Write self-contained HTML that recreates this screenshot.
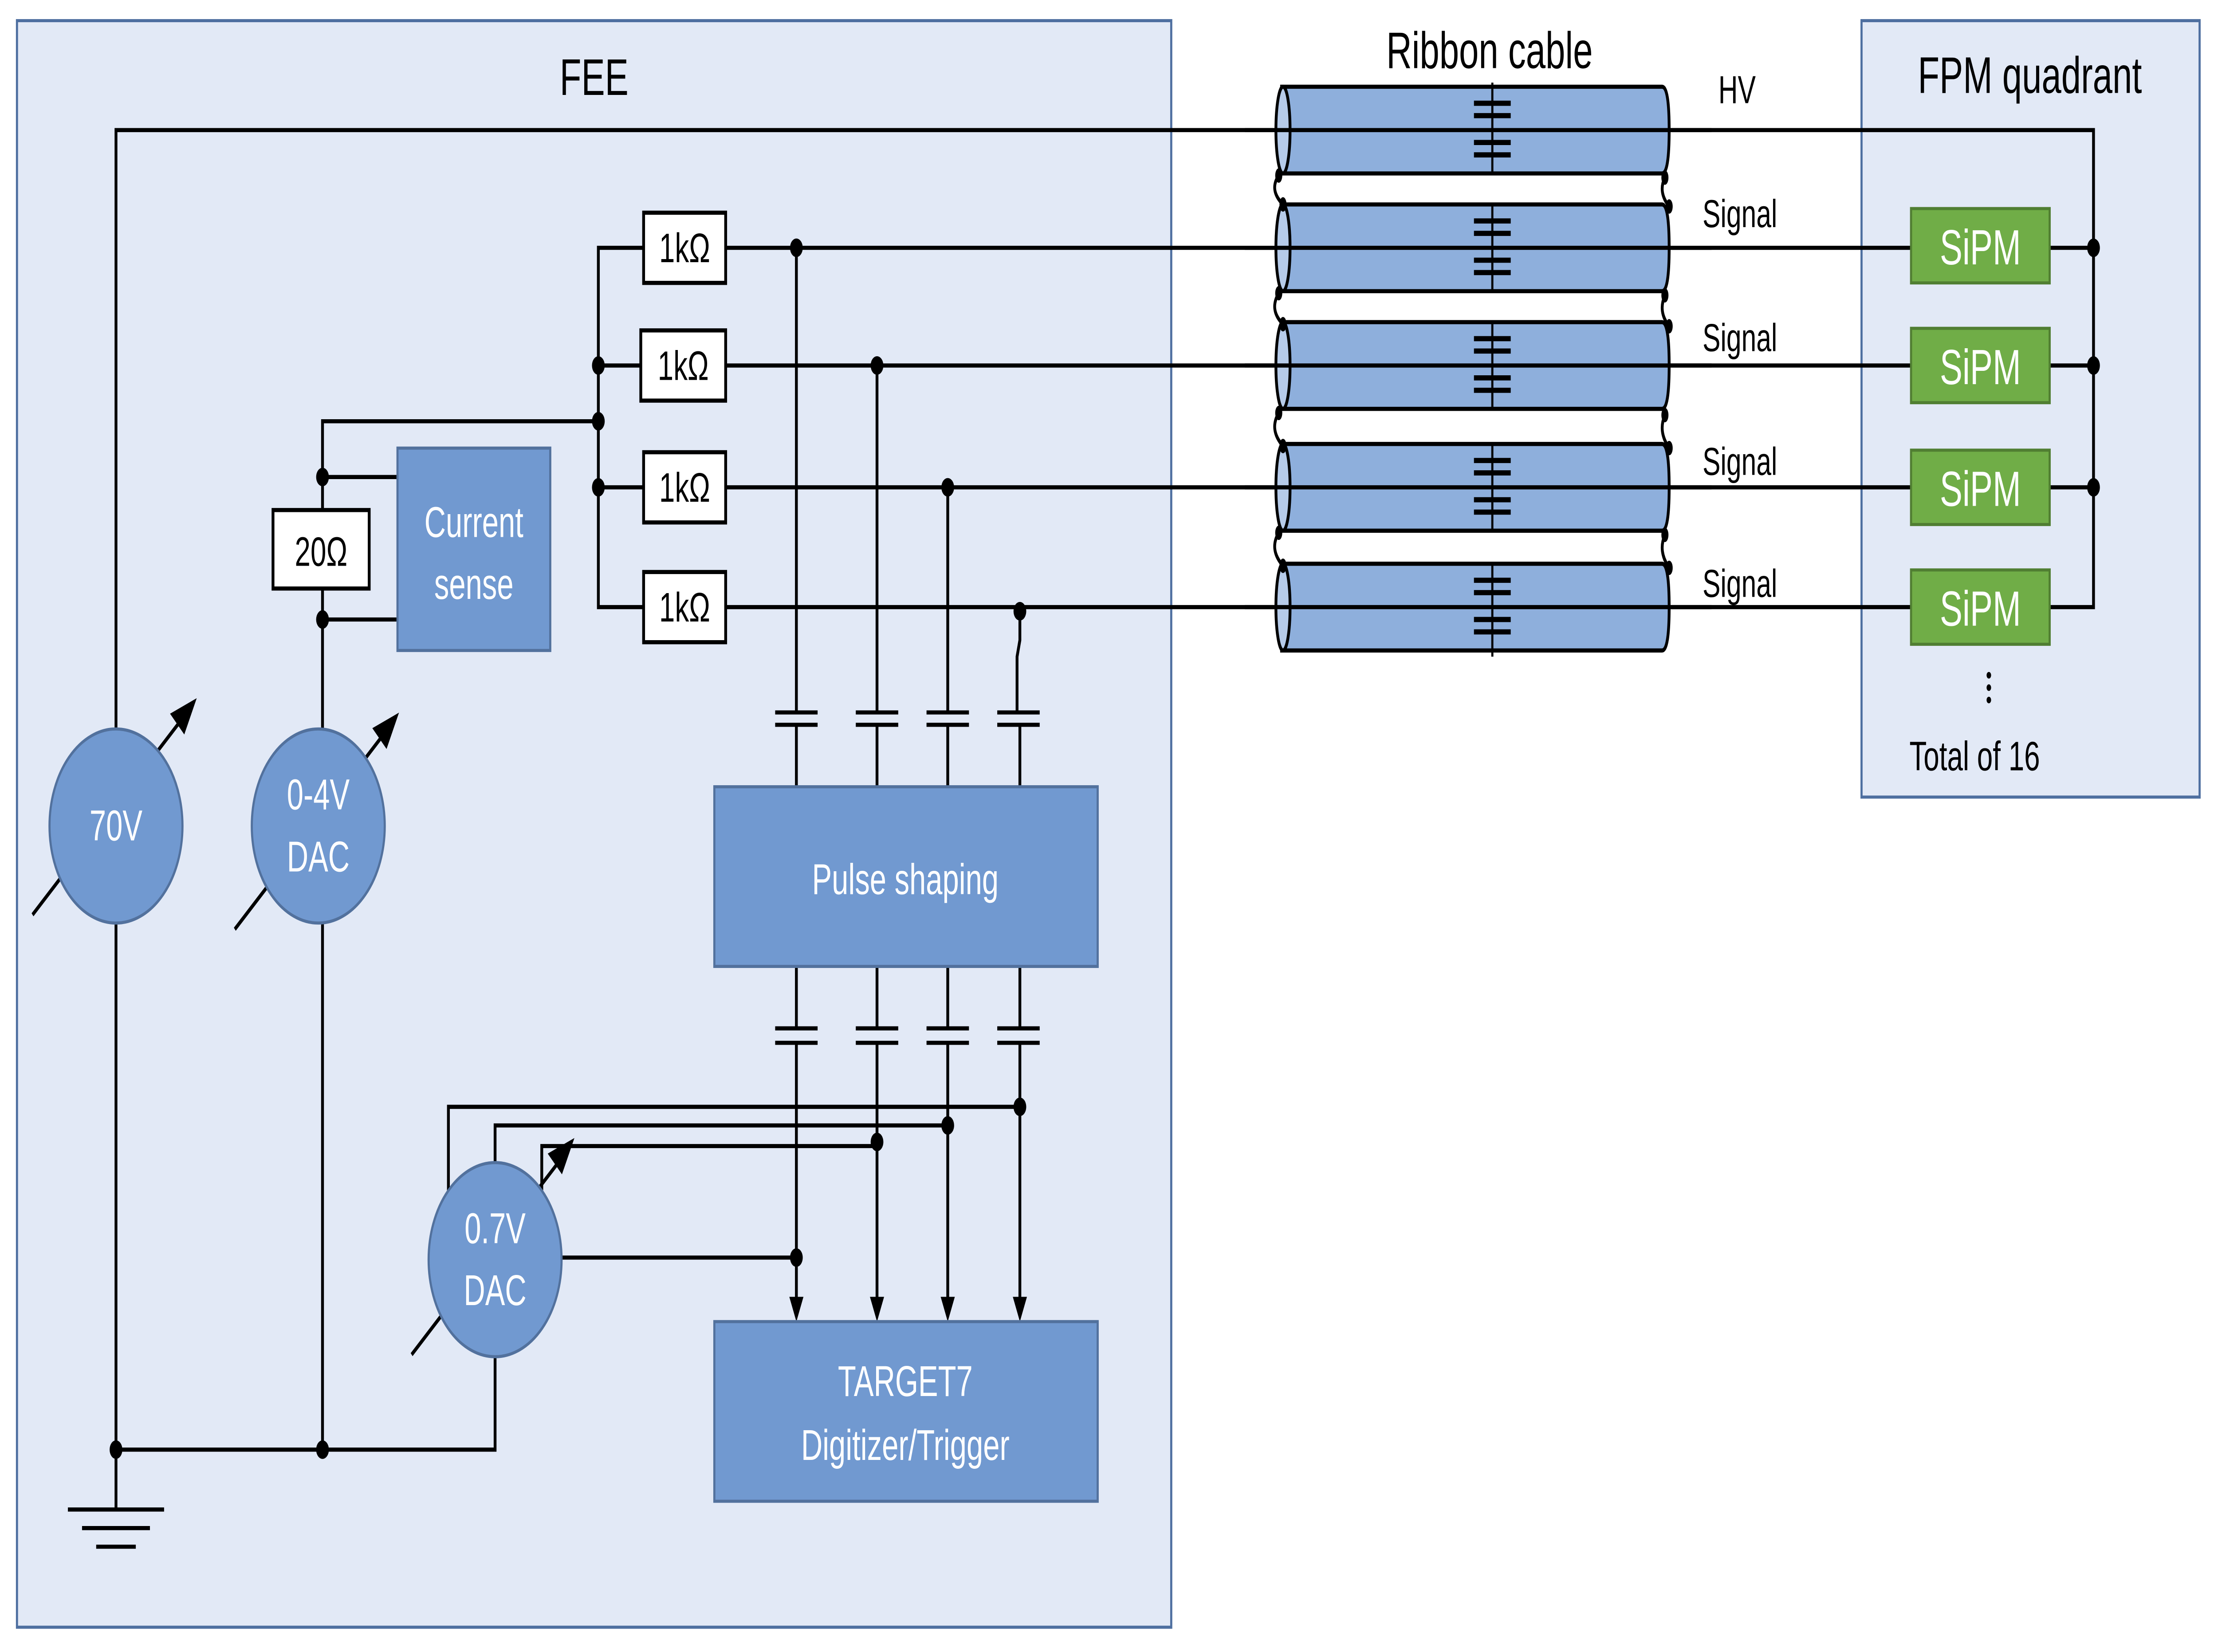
<!DOCTYPE html>
<html><head><meta charset="utf-8"><style>
html,body{margin:0;padding:0;background:#fff;overflow:hidden;width:100vw;height:100vh;}
svg{display:block;width:100vw;height:100vh;}
text{font-family:"Liberation Sans",sans-serif;}
</style></head><body>
<svg viewBox="0 0 1568 800" preserveAspectRatio="none" xmlns="http://www.w3.org/2000/svg">
<rect x="0" y="0" width="1568" height="800" fill="#fff"/>
<rect x="12" y="10" width="816" height="778" fill="#e2e9f6" stroke="#4e6fa0" stroke-width="1.5"/>
<text x="420" y="46" font-size="25" text-anchor="middle" fill="#000">FEE</text>
<rect x="1316" y="10" width="239" height="376" fill="#e2e9f6" stroke="#4e6fa0" stroke-width="1.5"/>
<text x="1435" y="45" font-size="25" text-anchor="middle" fill="#000">FPM quadrant</text>
<text x="1053" y="33" font-size="25" text-anchor="middle" fill="#000">Ribbon cable</text>

<g stroke="#000" stroke-width="2" fill="none">
<polyline points="82,353 82,63 1480,63 1480,294 1449,294"/>
<line x1="1449" y1="120" x2="1480" y2="120"/>
<line x1="1449" y1="177" x2="1480" y2="177"/>
<line x1="1449" y1="236" x2="1480" y2="236"/>
<line x1="513" y1="120" x2="1351" y2="120"/>
<line x1="513" y1="177" x2="1351" y2="177"/>
<line x1="513" y1="236" x2="1351" y2="236"/>
<line x1="513" y1="294" x2="1351" y2="294"/>
<polyline points="455,120 423,120 423,294 455,294"/>
<line x1="423" y1="177" x2="453" y2="177"/>
<line x1="423" y1="236" x2="455" y2="236"/>
<polyline points="423,204 228,204 228,248"/>
<line x1="228" y1="231" x2="281" y2="231"/>
<line x1="228" y1="285" x2="228" y2="353"/>
<line x1="228" y1="300" x2="281" y2="300"/>
<line x1="228" y1="447" x2="228" y2="702"/>
<line x1="82" y1="447" x2="82" y2="731"/>
<polyline points="82,702 350,702 350,657"/>
<line x1="48" y1="731" x2="116" y2="731"/>
<line x1="58" y1="740" x2="106" y2="740"/>
<line x1="68" y1="749" x2="96" y2="749"/>
<line x1="563" y1="120" x2="563" y2="345"/>
<line x1="620" y1="177" x2="620" y2="345"/>
<line x1="670" y1="236" x2="670" y2="345"/>
<polyline points="721,294 721,310 719,318 719,345"/>
<line x1="563" y1="351" x2="563" y2="381"/>
<line x1="620" y1="351" x2="620" y2="381"/>
<line x1="670" y1="351" x2="670" y2="381"/>
<line x1="721" y1="351" x2="721" y2="381"/>
<line x1="563" y1="468" x2="563" y2="498"/>
<line x1="620" y1="468" x2="620" y2="498"/>
<line x1="670" y1="468" x2="670" y2="498"/>
<line x1="721" y1="468" x2="721" y2="498"/>
<line x1="563" y1="505" x2="563" y2="630"/>
<line x1="620" y1="505" x2="620" y2="630"/>
<line x1="670" y1="505" x2="670" y2="630"/>
<line x1="721" y1="505" x2="721" y2="630"/>
<polyline points="317,577 317,536 721,536"/>
<polyline points="350,563 350,545 670,545"/>
<polyline points="383,577 383,555 620,555"/>
<line x1="397" y1="609" x2="563" y2="609"/>
</g>
<g stroke="#000" stroke-width="2">
<line x1="548" y1="345" x2="578" y2="345"/><line x1="548" y1="351" x2="578" y2="351"/>
<line x1="605" y1="345" x2="635" y2="345"/><line x1="605" y1="351" x2="635" y2="351"/>
<line x1="655" y1="345" x2="685" y2="345"/><line x1="655" y1="351" x2="685" y2="351"/>
<line x1="705" y1="345" x2="735" y2="345"/><line x1="705" y1="351" x2="735" y2="351"/>
<line x1="548" y1="498" x2="578" y2="498"/><line x1="548" y1="505" x2="578" y2="505"/>
<line x1="605" y1="498" x2="635" y2="498"/><line x1="605" y1="505" x2="635" y2="505"/>
<line x1="655" y1="498" x2="685" y2="498"/><line x1="655" y1="505" x2="685" y2="505"/>
<line x1="705" y1="498" x2="735" y2="498"/><line x1="705" y1="505" x2="735" y2="505"/>
</g>
<g fill="#000">
<polygon points="558,628 568,628 563,640"/>
<polygon points="615,628 625,628 620,640"/>
<polygon points="665,628 675,628 670,640"/>
<polygon points="716,628 726,628 721,640"/>
</g>
<g fill="#000">
<circle cx="563" cy="120" r="4.5"/><circle cx="620" cy="177" r="4.5"/>
<circle cx="670" cy="236" r="4.5"/><circle cx="721" cy="296" r="4.5"/>
<circle cx="423" cy="177" r="4.5"/><circle cx="423" cy="204" r="4.5"/><circle cx="423" cy="236" r="4.5"/>
<circle cx="228" cy="231" r="4.5"/><circle cx="228" cy="300" r="4.5"/>
<circle cx="82" cy="702" r="4.5"/><circle cx="228" cy="702" r="4.5"/>
<circle cx="721" cy="536" r="4.5"/><circle cx="670" cy="545" r="4.5"/><circle cx="620" cy="553" r="4.5"/>
<circle cx="563" cy="609" r="4.5"/>
<circle cx="1480" cy="120" r="4.5"/><circle cx="1480" cy="177" r="4.5"/><circle cx="1480" cy="236" r="4.5"/>
</g>
<g fill="#fff" stroke="#000" stroke-width="2">
<rect x="455" y="103" width="58" height="34"/>
<rect x="453" y="160" width="60" height="34"/>
<rect x="455" y="219" width="58" height="34"/>
<rect x="455" y="277" width="58" height="34"/>
<rect x="193" y="247" width="68" height="38"/>
</g>
<g font-size="20" text-anchor="middle" fill="#000">
<text x="484" y="127">1kΩ</text><text x="483" y="184">1kΩ</text>
<text x="484" y="243">1kΩ</text><text x="484" y="301">1kΩ</text>
<text x="227" y="274">20Ω</text>
</g>
<!-- adjust arrows (under circles) -->
<g stroke="#000" stroke-width="2" fill="#000">
<line x1="23" y1="443" x2="130" y2="347"/><polygon points="137,340 122,346 130,354"/>
<line x1="166" y1="450" x2="273" y2="354"/><polygon points="280,347 265,353 273,361"/>
<line x1="291" y1="656" x2="398" y2="560"/><polygon points="404,553 389,559 397,567"/>
</g>
<g fill="#7199d0" stroke="#52719d" stroke-width="1.5">
<rect x="281" y="217" width="108" height="98"/>
<rect x="505" y="381" width="271" height="87"/>
<rect x="505" y="640" width="271" height="87"/>
<circle cx="82" cy="400" r="47"/>
<circle cx="225" cy="400" r="47"/>
<circle cx="350" cy="610" r="47"/>
</g>
<g font-size="21" text-anchor="middle" fill="#fff">
<text x="335" y="260">Current</text><text x="335" y="290">sense</text>
<text x="640" y="433">Pulse shaping</text>
<text x="640" y="676">TARGET7</text><text x="640" y="707">Digitizer/Trigger</text>
<text x="82" y="407">70V</text>
<text x="225" y="392">0-4V</text><text x="225" y="422">DAC</text>
<text x="350" y="602">0.7V</text><text x="350" y="632">DAC</text>
</g>
<g stroke="#000" stroke-width="2">
<g fill="#8eafdc">
<path d="M906,42 L1175,42 Q1180,42 1180,63 Q1180,84 1175,84 L906,84 Z"/>
<path d="M906,99 L1175,99 Q1180,99 1180,120 Q1180,141 1175,141 L906,141 Z"/>
<path d="M906,156 L1175,156 Q1180,156 1180,177 Q1180,198 1175,198 L906,198 Z"/>
<path d="M906,215 L1175,215 Q1180,215 1180,236 Q1180,257 1175,257 L906,257 Z"/>
<path d="M906,273 L1175,273 Q1180,273 1180,294 Q1180,315 1175,315 L906,315 Z"/>
</g>
<g fill="#b6cbe9">
<ellipse cx="907" cy="63" rx="5" ry="21"/>
<ellipse cx="907" cy="120" rx="5" ry="21"/>
<ellipse cx="907" cy="177" rx="5" ry="21"/>
<ellipse cx="907" cy="236" rx="5" ry="21"/>
<ellipse cx="907" cy="294" rx="5" ry="21"/>
</g>
<g fill="none">
<line x1="880" y1="63" x2="1210" y2="63"/>
<line x1="880" y1="120" x2="1210" y2="120"/>
<line x1="880" y1="177" x2="1210" y2="177"/>
<line x1="880" y1="236" x2="1210" y2="236"/>
<line x1="880" y1="294" x2="1210" y2="294"/>
<path d="M904,85 Q897,92 907,99 M904,142 Q897,150 907,157 M904,200 Q897,208 907,216 M904,258 Q897,266 907,274"/>
<path d="M1177,86 Q1172,93 1180,100 M1177,143 Q1172,151 1180,158 M1177,201 Q1172,209 1180,217 M1177,259 Q1172,267 1180,275"/>
</g>
</g>
<g fill="#000">
<ellipse cx="904" cy="85" rx="2.5" ry="3.5"/><ellipse cx="907" cy="99" rx="2.5" ry="3.5"/>
<ellipse cx="904" cy="142" rx="2.5" ry="3.5"/><ellipse cx="907" cy="157" rx="2.5" ry="3.5"/>
<ellipse cx="904" cy="200" rx="2.5" ry="3.5"/><ellipse cx="907" cy="216" rx="2.5" ry="3.5"/>
<ellipse cx="904" cy="258" rx="2.5" ry="3.5"/><ellipse cx="907" cy="274" rx="2.5" ry="3.5"/>
<ellipse cx="1177" cy="86" rx="2.5" ry="3.5"/><ellipse cx="1180" cy="100" rx="2.5" ry="3.5"/>
<ellipse cx="1177" cy="143" rx="2.5" ry="3.5"/><ellipse cx="1180" cy="158" rx="2.5" ry="3.5"/>
<ellipse cx="1177" cy="201" rx="2.5" ry="3.5"/><ellipse cx="1180" cy="217" rx="2.5" ry="3.5"/>
<ellipse cx="1177" cy="259" rx="2.5" ry="3.5"/><ellipse cx="1180" cy="275" rx="2.5" ry="3.5"/>
</g>
<g stroke="#000">
<g stroke-width="1.5">
<line x1="1055" y1="40" x2="1055" y2="84"/>
<line x1="1055" y1="99" x2="1055" y2="141"/>
<line x1="1055" y1="156" x2="1055" y2="198"/>
<line x1="1055" y1="215" x2="1055" y2="257"/>
<line x1="1055" y1="273" x2="1055" y2="318"/>
</g>
<g stroke-width="2.5">
<path d="M1042,50H1068M1042,56H1068M1042,69H1068M1042,75H1068"/>
<path d="M1042,107H1068M1042,113H1068M1042,126H1068M1042,132H1068"/>
<path d="M1042,164H1068M1042,170H1068M1042,183H1068M1042,189H1068"/>
<path d="M1042,223H1068M1042,229H1068M1042,242H1068M1042,248H1068"/>
<path d="M1042,281H1068M1042,287H1068M1042,300H1068M1042,306H1068"/>
</g>
</g>
<g font-size="19" fill="#000" text-anchor="middle">
<text x="1228" y="50">HV</text>
<text x="1230" y="110">Signal</text>
<text x="1230" y="170">Signal</text>
<text x="1230" y="230">Signal</text>
<text x="1230" y="289">Signal</text>
<text x="1396" y="373" font-size="20">Total of 16</text>
</g>
<g fill="#000"><circle cx="1406" cy="327" r="1.6"/><circle cx="1406" cy="333" r="1.6"/><circle cx="1406" cy="339" r="1.6"/></g>
<g fill="#70ad47" stroke="#507e32" stroke-width="1.5">
<rect x="1351" y="101" width="98" height="36"/>
<rect x="1351" y="159" width="98" height="36"/>
<rect x="1351" y="218" width="98" height="36"/>
<rect x="1351" y="276" width="98" height="36"/>
</g>
<g font-size="24" fill="#fff" text-anchor="middle">
<text x="1400" y="128">SiPM</text><text x="1400" y="186">SiPM</text>
<text x="1400" y="245">SiPM</text><text x="1400" y="303">SiPM</text>
</g>
</svg>
</body></html>
